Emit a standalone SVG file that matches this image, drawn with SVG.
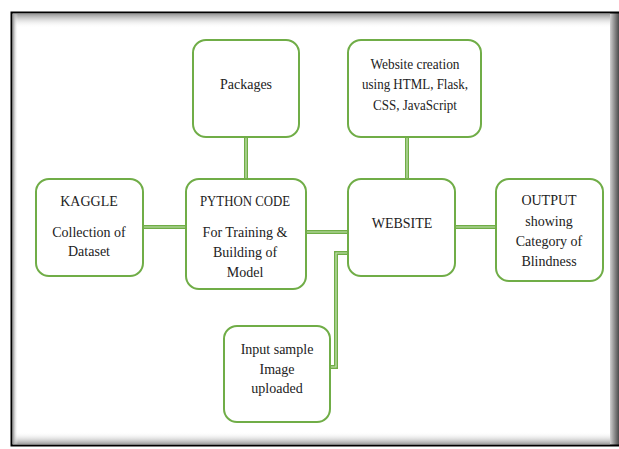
<svg xmlns="http://www.w3.org/2000/svg" width="619" height="449" viewBox="0 0 619 449">
<defs>
<linearGradient id="gTop" x1="0" y1="0" x2="0" y2="1"><stop offset="0" stop-color="#9a9a9a"/><stop offset="1" stop-color="#ffffff" stop-opacity="0"/></linearGradient>
<linearGradient id="gBot" x1="0" y1="1" x2="0" y2="0"><stop offset="0" stop-color="#a0a0a0"/><stop offset="1" stop-color="#ffffff" stop-opacity="0"/></linearGradient>
<linearGradient id="gLeft" x1="0" y1="0" x2="1" y2="0"><stop offset="0" stop-color="#9a9a9a"/><stop offset="1" stop-color="#ffffff" stop-opacity="0"/></linearGradient>
<linearGradient id="gRight" x1="0" y1="0" x2="1" y2="0"><stop offset="0" stop-color="#d0d0d0"/><stop offset="1" stop-color="#4a4a4a"/></linearGradient>
</defs>
<style>
.box{fill:#fff;stroke:#70ad47;stroke-width:2}
text{font-family:'Liberation Serif','DejaVu Serif',serif;font-size:14px;fill:#222;text-anchor:middle}
.c{fill:none;stroke:#70ad47;stroke-width:4}
.ci{fill:none;stroke:#c5e3b3;stroke-width:1.2}
</style>
<rect x="0" y="0" width="619" height="449" fill="#fff"/>
<g id="frame">
<rect x="12" y="13" width="620" height="432" fill="#fff"/>
<rect x="13" y="14" width="600" height="14" fill="url(#gTop)"/>
<rect x="13" y="432" width="600" height="12" fill="url(#gBot)"/>
<rect x="13" y="14" width="5" height="430" fill="url(#gLeft)"/>
<rect x="610" y="13" width="9" height="433" fill="url(#gRight)"/>
<path d="M619,12.5 L11.5,12.5 L11.5,445.5 L619,445.5" fill="none" stroke="#000" stroke-width="2"/>
</g>
<g id="connectors">
<path class="c" d="M246,137 V178"/>
<path class="ci" d="M246,137 V178"/>
<path class="c" d="M407,138 V178"/>
<path class="ci" d="M407,138 V178"/>
<path class="c" d="M144,227 H185"/>
<path class="ci" d="M144,227 H185"/>
<path class="c" d="M307,232 H347"/>
<path class="ci" d="M307,232 H347"/>
<path class="c" d="M456,227 H495"/>
<path class="ci" d="M456,227 H495"/>
<path class="c" d="M331,367 H336 V253 H347"/>
<path class="ci" d="M331,367 H336 V253 H347"/>
</g>
<g id="packages">
<rect class="box" x="193" y="40" width="106" height="97" rx="13"/>
<text x="246" y="89" font-family="Liberation Serif, serif">Packages</text>
</g>
<g id="website-creation">
<rect class="box" x="348" y="40" width="133" height="97" rx="13"/>
<text x="415" y="69" textLength="89" lengthAdjust="spacingAndGlyphs">Website creation</text>
<text x="415" y="89" textLength="106" lengthAdjust="spacingAndGlyphs">using HTML, Flask,</text>
<text x="415" y="110" textLength="84" lengthAdjust="spacingAndGlyphs">CSS, JavaScript</text>
</g>
<g id="kaggle">
<rect class="box" x="36" y="179" width="107" height="97" rx="13"/>
<text x="89" y="206">KAGGLE</text>
<text x="89" y="237">Collection of</text>
<text x="89" y="256">Dataset</text>
</g>
<g id="python">
<rect class="box" x="186" y="179" width="120" height="110" rx="13"/>
<text x="245" y="206" textLength="90" lengthAdjust="spacingAndGlyphs">PYTHON CODE</text>
<text x="245" y="237">For Training &amp;</text>
<text x="245" y="257">Building of</text>
<text x="245" y="277">Model</text>
</g>
<g id="website">
<rect class="box" x="348" y="179" width="107" height="97" rx="13"/>
<text x="402" y="228">WEBSITE</text>
</g>
<g id="output">
<rect class="box" x="496" y="179" width="107" height="102" rx="13"/>
<text x="549" y="205">OUTPUT</text>
<text x="549" y="226">showing</text>
<text x="549" y="246">Category of</text>
<text x="549" y="266">Blindness</text>
</g>
<g id="input">
<rect class="box" x="224" y="326" width="106" height="96" rx="13"/>
<text x="277" y="354">Input sample</text>
<text x="277" y="374">Image</text>
<text x="277" y="393">uploaded</text>
</g>
</svg>
